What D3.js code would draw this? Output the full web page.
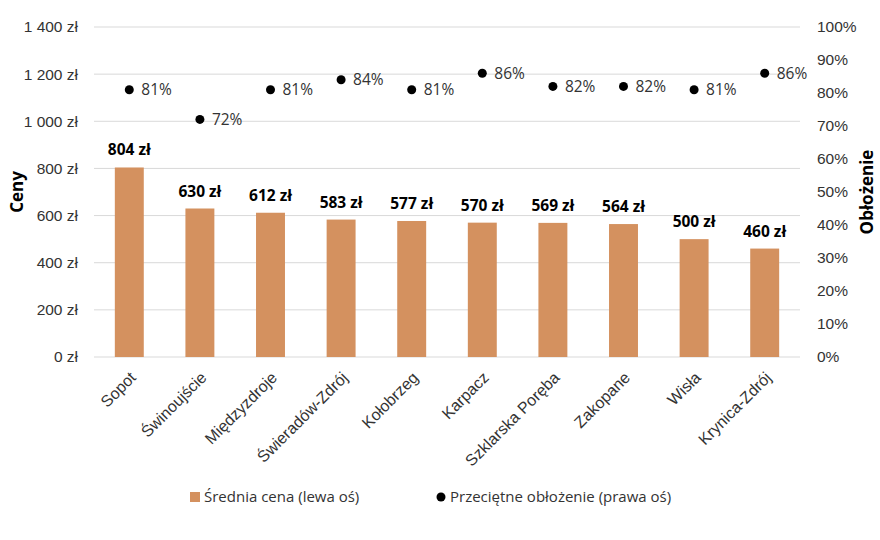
<!DOCTYPE html>
<html>
<head>
<meta charset="utf-8">
<script src="https://cdn.jsdelivr.net/npm/d3@7"></script>
<style>
  body { margin: 0; background: #fff; }
  svg { font-family: "Open Sans", "Noto Sans", sans-serif; }
</style>
</head>
<body>
<svg id="chart" width="880" height="540"></svg>
<script>
const cities = ["Sopot", "Świnoujście", "Międzyzdroje", "Świeradów-Zdrój", "Kołobrzeg",
  "Karpacz", "Szklarska Poręba", "Zakopane", "Wisła", "Krynica-Zdrój"];
const prices = [804, 630, 612, 583, 577, 570, 569, 564, 500, 460];
const occupancy = [0.81, 0.72, 0.81, 0.84, 0.81, 0.86, 0.82, 0.82, 0.81, 0.86];
const priceTicks = [0, 200, 400, 600, 800, 1000, 1200, 1400];
const pctTicks = [0, 0.1, 0.2, 0.3, 0.4, 0.5, 0.6, 0.7, 0.8, 0.9, 1];

const BAR_COLOR = "#d4915f";
const TEXT_COLOR = "#333";

const margin = {top: 27, right: 80, bottom: 183, left: 94};
const width = 880 - margin.left - margin.right;
const height = 540 - margin.top - margin.bottom;

const svg = d3.select("#chart");
const g = svg.append("g").attr("transform", `translate(${margin.left},${margin.top})`);

const x = d3.scaleBand().domain(cities).range([0, width]).paddingInner(0.59).paddingOuter(0.295);
const yL = d3.scaleLinear().domain([0, 1400]).range([height, 0]);
const yR = d3.scaleLinear().domain([0, 1]).range([height, 0]);

const fmtZl = d => d3.format(",")(d).replace(/,/g, " ") + " zł";

// gridlines
g.append("g")
  .selectAll("line")
  .data(priceTicks)
  .join("line")
  .attr("x1", 0).attr("x2", width)
  .attr("y1", d => yL(d)).attr("y2", d => yL(d))
  .attr("stroke", "#d9d9d9")
  .attr("stroke-width", 1);

// left axis
const leftAxis = g.append("g")
  .call(d3.axisLeft(yL).tickValues(priceTicks).tickFormat(fmtZl).tickSize(0).tickPadding(16));
leftAxis.select(".domain").remove();
leftAxis.selectAll("text").attr("fill", TEXT_COLOR).style("font-size", "15.5px");

// right axis
const rightAxis = g.append("g")
  .attr("transform", `translate(${width},0)`)
  .call(d3.axisRight(yR).tickValues(pctTicks).tickFormat(d3.format(".0%")).tickSize(0).tickPadding(17));
rightAxis.select(".domain").remove();
rightAxis.selectAll("text").attr("fill", TEXT_COLOR).style("font-size", "15.5px");

// bottom axis
const bottomAxis = g.append("g")
  .attr("transform", `translate(0,${height})`)
  .call(d3.axisBottom(x).tickSize(0).tickPadding(8));
bottomAxis.select(".domain").remove();
bottomAxis.selectAll("text")
  .attr("fill", TEXT_COLOR)
  .style("font-size", "16px")
  .attr("text-anchor", "end")
  .attr("dy", "0.35em")
  .attr("transform", "translate(-2,12) rotate(-45)");

// bars
g.append("g")
  .selectAll("rect")
  .data(prices)
  .join("rect")
  .attr("x", (d, i) => x(cities[i]))
  .attr("width", x.bandwidth())
  .attr("y", d => yL(d))
  .attr("height", d => height - yL(d))
  .attr("fill", BAR_COLOR);

// bar labels
g.append("g")
  .selectAll("text")
  .data(prices)
  .join("text")
  .attr("x", (d, i) => x(cities[i]) + x.bandwidth() / 2)
  .attr("y", d => yL(d) - 12)
  .attr("text-anchor", "middle")
  .attr("fill", "#000")
  .style("font-size", "15.5px")
  .style("font-weight", "bold")
  .text(d => fmtZl(d));

// occupancy dots
const cx = i => x(cities[i]) + x.bandwidth() / 2;
g.append("g")
  .selectAll("circle")
  .data(occupancy)
  .join("circle")
  .attr("cx", (d, i) => cx(i))
  .attr("cy", d => yR(d))
  .attr("r", 4.5)
  .attr("fill", "#000");

g.append("g")
  .selectAll("text")
  .data(occupancy)
  .join("text")
  .attr("x", (d, i) => cx(i) + 12)
  .attr("y", d => yR(d))
  .attr("dy", "0.35em")
  .attr("fill", TEXT_COLOR)
  .style("font-size", "15.5px")
  .text(d => d3.format(".0%")(d));

// axis titles
svg.append("text")
  .attr("transform", `translate(23,${margin.top + height / 2}) rotate(-90)`)
  .attr("text-anchor", "middle")
  .style("font-size", "17px")
  .style("font-weight", "bold")
  .text("Ceny");

svg.append("text")
  .attr("transform", `translate(873,${margin.top + height / 2}) rotate(-90)`)
  .attr("text-anchor", "middle")
  .style("font-size", "17px")
  .style("font-weight", "bold")
  .text("Obłożenie");

// legend
const legend = svg.append("g").attr("transform", "translate(190,497)");
legend.append("rect").attr("x", 0).attr("y", -5).attr("width", 10).attr("height", 10).attr("fill", BAR_COLOR);
legend.append("text").attr("x", 14).attr("dy", "0.35em").attr("fill", TEXT_COLOR)
  .style("font-size", "15px").text("Średnia cena (lewa oś)");
legend.append("circle").attr("cx", 251).attr("cy", 0).attr("r", 4.5).attr("fill", "#000");
legend.append("text").attr("x", 260).attr("dy", "0.35em").attr("fill", TEXT_COLOR)
  .style("font-size", "15px").text("Przeciętne obłożenie (prawa oś)");
</script>
</body>
</html>
